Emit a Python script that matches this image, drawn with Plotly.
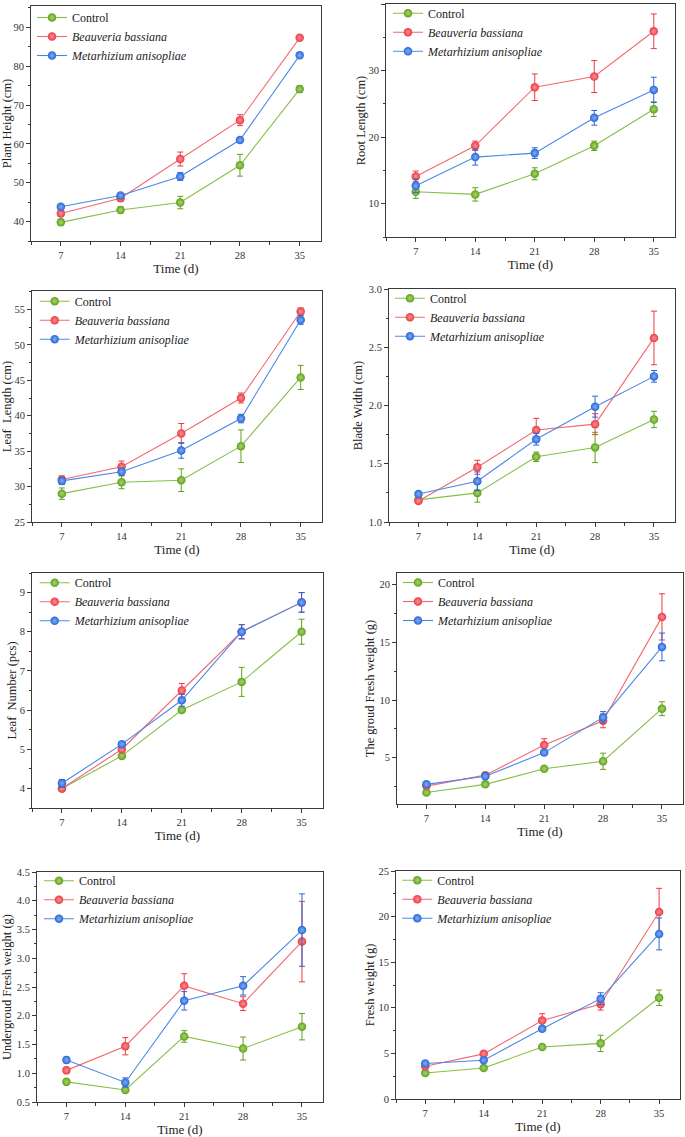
import plotly.graph_objects as go

# ---------------- data ----------------
days = [7, 14, 21, 28, 35]
series_names = ["Control", "<i>Beauveria bassiana</i>", "<i>Metarhizium anisopliae</i>"]

plant_height = [[39.8, 43.0, 44.9, 54.5, 74.1],
                [42.1, 46.0, 56.1, 66.1, 87.3],
                [43.8, 46.7, 51.6, 61.0, 82.8]]
plant_height_err = [[0.8, 0.8, 1.6, 2.8, 0.8],
                    [0.7, 0.8, 1.8, 1.4, 0.5],
                    [0.5, 0.5, 1.0, 0.5, 0.5]]

root_length = [[11.8, 11.4, 14.5, 18.7, 24.2],
               [14.1, 18.7, 27.5, 29.1, 35.9],
               [12.7, 17.0, 17.6, 22.9, 27.1]]
root_length_err = [[1.0, 1.0, 0.9, 0.7, 1.1],
                   [0.8, 0.7, 2.0, 2.4, 2.6],
                   [1.0, 1.2, 0.8, 1.1, 1.9]]

leaf_length = [[29.0, 30.6, 30.9, 35.7, 45.4],
               [31.0, 32.8, 37.5, 42.5, 54.7],
               [30.8, 32.1, 35.1, 39.6, 53.5]]
leaf_length_err = [[0.8, 0.9, 1.6, 2.3, 1.7],
                   [0.5, 0.8, 1.4, 0.7, 0.5],
                   [0.5, 0.5, 1.1, 0.6, 0.6]]

blade_width = [[1.19, 1.25, 1.56, 1.64, 1.88],
               [1.18, 1.47, 1.79, 1.84, 2.58],
               [1.24, 1.35, 1.71, 1.99, 2.25]]
blade_width_err = [[0.02, 0.08, 0.04, 0.13, 0.07],
                   [0.02, 0.06, 0.10, 0.09, 0.23],
                   [0.02, 0.08, 0.05, 0.09, 0.05]]

leaf_number = [[4.0, 4.83, 6.0, 6.72, 8.0],
               [4.0, 5.0, 6.5, 8.0, 8.75],
               [4.13, 5.13, 6.25, 8.0, 8.75]]
leaf_number_err = [[0.03, 0.03, 0.05, 0.37, 0.32],
                   [0.03, 0.05, 0.18, 0.18, 0.25],
                   [0.10, 0.05, 0.15, 0.18, 0.25]]

ground_fw = [[2.0, 2.7, 4.05, 4.7, 9.25],
             [2.55, 3.5, 6.1, 8.2, 17.2],
             [2.7, 3.4, 5.45, 8.5, 14.6]]
ground_fw_err = [[0.1, 0.1, 0.1, 0.7, 0.6],
                 [0.1, 0.1, 0.55, 0.6, 2.0],
                 [0.1, 0.15, 0.2, 0.5, 1.2]]

underground_fw = [[0.85, 0.71, 1.64, 1.43, 1.81],
                  [1.05, 1.47, 2.52, 2.21, 3.29],
                  [1.23, 0.84, 2.26, 2.52, 3.49]]
underground_fw_err = [[0.02, 0.03, 0.10, 0.20, 0.23],
                      [0.02, 0.15, 0.21, 0.12, 0.70],
                      [0.05, 0.08, 0.16, 0.16, 0.63]]

fresh_weight = [[2.85, 3.4, 5.7, 6.1, 11.1],
                [3.6, 4.95, 8.6, 10.4, 20.5],
                [3.9, 4.25, 7.7, 11.0, 18.1]]
fresh_weight_err = [[0.1, 0.1, 0.1, 0.9, 0.85],
                    [0.1, 0.2, 0.75, 0.65, 2.6],
                    [0.1, 0.1, 0.2, 0.65, 1.75]]

y_titles = ["Plant Height (cm)", "Root Length (cm)", "Leaf  Length (cm)", "Blade Width (cm)",
            "Leaf  Number (pcs)", "The groud Fresh weight (g)", "Undergroud Fresh weight (g)",
            "Fresh weight (g)"]
x_title = "Time (d)"

# ---------------- styling ----------------
W, H = 685, 1137
marker_colors = ["#62a11a", "#ee3a43", "#2767da"]
highlight = ["#a8d474", "#f79499", "#86adf0"]
line_colors = ["#86bf48", "#f26a70", "#4a88e6"]
FONT = "Liberation Serif"
AX = "#3a3a3a"

panels = [
    # data, err, frame px (x0, x1, y0, y1), yrange, dtick, fmt, legend line start px, first legend row px, y-title standoff
    (plant_height, plant_height_err, (31, 321, 6, 241), [35, 95.5], 10, None, 38, 20, 7),
    (root_length, root_length_err, (386, 675, 4, 237), [5, 40], 10, None, 394, 15.7, 0),
    (leaf_length, leaf_length_err, (32, 322, 291, 522), [25, 57.6], 5, None, 40.7, 303.7, 5),
    (blade_width, blade_width_err, (389, 675, 289, 522), [1, 3], 0.5, ".1f", 396, 300.7, 3),
    (leaf_number, leaf_number_err, (32, 323, 573, 808), [3.5, 9.5], 1, None, 40.7, 585.3, 0),
    (ground_fw, ground_fw_err, (397, 683, 573, 804), [1, 21], 5, None, 404, 585, 1.5),
    (underground_fw, underground_fw_err, (37, 323, 872, 1102), [0.5, 4.5], 0.5, ".1f", 45, 883.3, 5),
    (fresh_weight, fresh_weight_err, (396, 680, 871, 1099), [0, 25], 5, None, 403.3, 882.7, 0.5),
]

fig = go.Figure()
layout = {}
for i, (vals, errs, (x0, x1, y0, y1), yr, dt, fmt, lx, ly, so) in enumerate(panels):
    k = i + 1
    sfx = "" if k == 1 else str(k)
    leg = "legend" if k == 1 else f"legend{k}"
    for s in range(3):
        fig.add_trace(go.Scatter(
            x=days, y=vals[s], name=series_names[s], mode="lines+markers",
            xaxis="x" + sfx, yaxis="y" + sfx, legend=leg,
            line=dict(color=line_colors[s], width=1.1),
            marker=dict(size=8.5, color=marker_colors[s],
                        gradient=dict(type="radial", color=highlight[s]),
                        line=dict(width=0)),
            error_y=dict(type="data", array=errs[s], visible=True,
                         color=marker_colors[s], thickness=1, width=3),
        ))
    layout["xaxis" + sfx] = dict(
        domain=[x0 / W, x1 / W], anchor="y" + sfx, range=[3.5, 37.5],
        tickmode="array", tickvals=days, ticks="outside", ticklen=4, tickcolor=AX,
        minor=dict(tickmode="linear", tick0=3.5, dtick=7, ticks="outside", ticklen=2.5, tickcolor=AX),
        showline=True, linecolor=AX, linewidth=1, mirror=True, showgrid=False, zeroline=False,
        tickfont=dict(family=FONT, size=10.5, color="#333"),
        title=dict(text=x_title, font=dict(family=FONT, size=13, color="#222"), standoff=0),
    )
    ya = dict(
        domain=[1 - y1 / H, 1 - y0 / H], anchor="x" + sfx, range=yr,
        tick0=0, dtick=dt, ticks="outside", ticklen=4, tickcolor=AX,
        minor=dict(dtick=dt / 2, ticks="outside", ticklen=2.5, tickcolor=AX),
        showline=True, linecolor=AX, linewidth=1, mirror=True, showgrid=False, zeroline=False,
        tickfont=dict(family=FONT, size=10.5, color="#333"),
        title=dict(text=y_titles[i], font=dict(family=FONT, size=12.5, color="#222"), standoff=so),
    )
    if fmt:
        ya["tickformat"] = fmt
    layout["yaxis" + sfx] = ya
    layout[leg] = dict(
        x=(lx - 6) / W, y=1 - (ly - 17) / H, xanchor="left", yanchor="top",
        bgcolor="rgba(0,0,0,0)", borderwidth=0,
        font=dict(family=FONT, size=12, color="#222"),
        itemwidth=30, tracegroupgap=0,
    )

fig.update_layout(
    width=W, height=H, margin=dict(l=0, r=0, t=0, b=0, autoexpand=False),
    paper_bgcolor="white", plot_bgcolor="white", showlegend=True,
    **layout,
)
fig.write_html("out.html", config={"displayModeBar": False},
               post_script="document.body.style.margin='0';")
